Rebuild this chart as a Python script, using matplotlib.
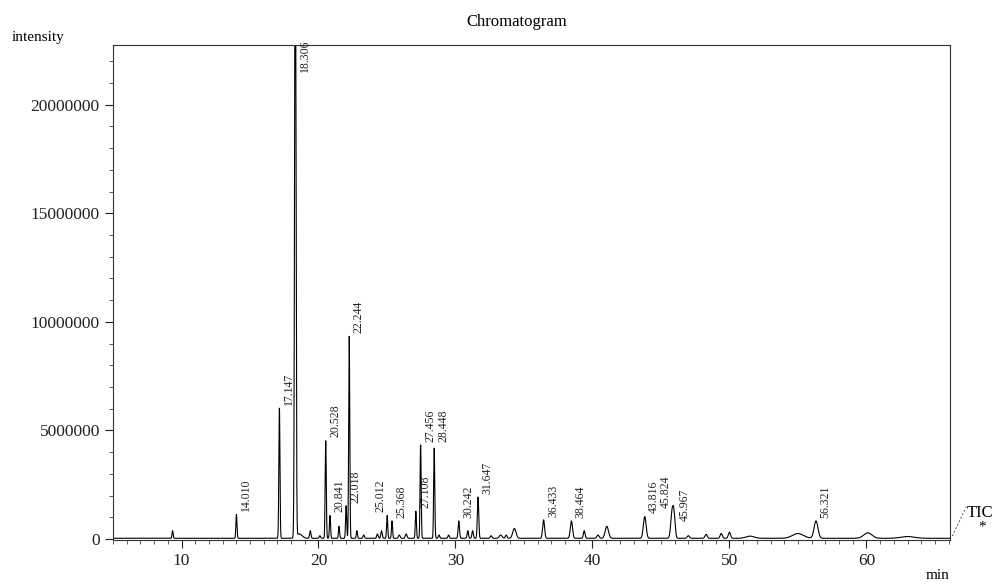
import numpy as np
import matplotlib.pyplot as plt
from matplotlib.ticker import MultipleLocator, FuncFormatter

# peak table: retention time (min), height (x1e6), width (sigma, min)
peak_rt = [9.35, 14.010, 17.147, 18.306, 18.6, 19.4, 20.1, 20.528, 20.841, 21.5, 22.018, 22.244,
           22.8, 23.3, 24.3, 24.6, 25.012, 25.368, 25.9, 26.4, 27.108, 27.456, 28.448, 28.8,
           29.5, 30.242, 30.9, 31.25, 31.647, 32.6, 33.3, 33.7, 34.3, 36.433, 38.464, 39.4,
           40.4, 41.05, 43.816, 45.824, 45.967, 47.0, 48.3, 49.4, 50.0, 51.5, 55.0, 56.321,
           60.1, 63.0]
peak_h = [0.35, 1.1, 6.0, 30.0, 0.2, 0.35, 0.12, 4.5, 1.05, 0.55, 1.5, 9.3,
          0.35, 0.15, 0.2, 0.35, 1.05, 0.8, 0.15, 0.2, 1.25, 4.3, 4.15, 0.15,
          0.15, 0.8, 0.35, 0.35, 1.9, 0.12, 0.15, 0.15, 0.45, 0.85, 0.8, 0.35,
          0.15, 0.55, 1.0, 1.25, 0.8, 0.12, 0.18, 0.22, 0.28, 0.1, 0.22, 0.8,
          0.25, 0.08]
peak_w = [0.04, 0.04, 0.04, 0.05, 0.2, 0.05, 0.05, 0.04, 0.04, 0.04, 0.04, 0.04,
          0.04, 0.05, 0.05, 0.05, 0.04, 0.04, 0.06, 0.06, 0.04, 0.04, 0.04, 0.05,
          0.05, 0.05, 0.05, 0.05, 0.05, 0.06, 0.1, 0.06, 0.12, 0.07, 0.08, 0.06,
          0.08, 0.12, 0.1, 0.1, 0.08, 0.08, 0.08, 0.08, 0.08, 0.3, 0.4, 0.14,
          0.3, 0.5]

# labelled peaks
label_rt = [14.010, 17.147, 18.306, 20.528, 20.841, 22.018, 22.244, 25.012, 25.368, 27.108,
            27.456, 28.448, 30.242, 31.647, 36.433, 38.464, 43.816, 45.824, 45.967, 56.321]
label_txt = ["14.010", "17.147", "18.306", "20.528", "20.841", "22.018", "22.244", "25.012",
             "25.368", "27.108", "27.456", "28.448", "30.242", "31.647", "36.433", "38.464",
             "43.816", "45.824", "45.967", "56.321"]
# where each label's lower end sits (x1e6) and its sideways nudge (points)
label_y = [1.15, 6.05, 21.4, 4.55, 1.1, 1.55, 9.35, 1.1, 0.85, 1.3,
           4.35, 4.35, 0.85, 1.95, 0.9, 0.85, 1.05, 1.3, 0.7, 0.85]
label_dx = [2.5, 2.5, 2.5, 2.5, 2.5, 2.5, 2.5, -9.0, 2.5, 2.5,
            2.5, 2.5, 2.5, 2.5, 2.5, 2.5, 2.5, -9.0, 3.5, 2.5]

t = np.linspace(5, 66.2, 12000)
y = np.full_like(t, 0.03)
for rt, h, w in zip(peak_rt, peak_h, peak_w):
    y += h * np.exp(-0.5 * ((t - rt) / w) ** 2)
y *= 1e6

plt.rcParams['font.family'] = ['Liberation Serif', 'DejaVu Serif']

fig = plt.figure(figsize=(9.94, 5.84), dpi=100)
ax = fig.add_axes([0.1137, 0.0753, 0.842, 0.8477])
ax.plot(t, y, color='black', lw=0.8)
ax.set_xlim(5, 66.1)
ax.set_ylim(-0.05e6, 22.75e6)

ax.xaxis.set_major_locator(MultipleLocator(10))
ax.xaxis.set_minor_locator(MultipleLocator(1))
ax.yaxis.set_major_locator(MultipleLocator(5e6))
ax.yaxis.set_minor_locator(MultipleLocator(1e6))
ax.yaxis.set_major_formatter(FuncFormatter(lambda v, p: f"{int(round(v))}"))
ax.tick_params(which='major', length=6, width=0.8, labelsize=12.5, direction='out', colors='#222222')
ax.tick_params(which='minor', length=3, width=0.6, direction='out', colors='#444444')
for s in ax.spines.values():
    s.set_linewidth(0.8)
    s.set_color('#333333')

for rt, txt, ly, dx in zip(label_rt, label_txt, label_y, label_dx):
    ax.annotate(txt, xy=(rt, ly * 1e6), xytext=(dx, 2), textcoords='offset points',
                rotation=90, ha='left', va='bottom', fontsize=8.5, color='#222222')

fig.text(0.52, 0.962, "Chromatogram", ha='center', va='center', fontsize=12)
fig.text(0.012, 0.935, "intensity", ha='left', va='center', fontsize=11)
fig.text(0.955, 0.015, "min", ha='right', va='center', fontsize=11)
fig.text(0.973, 0.122, "TIC", ha='left', va='center', fontsize=12)
fig.text(0.988, 0.098, "*", ha='center', va='center', fontsize=11)
fig.add_artist(plt.Line2D([0.958, 0.972], [0.082, 0.132], color='#555555', lw=0.7, ls=(0, (2, 2))))

fig.savefig("out.png", dpi=100)
